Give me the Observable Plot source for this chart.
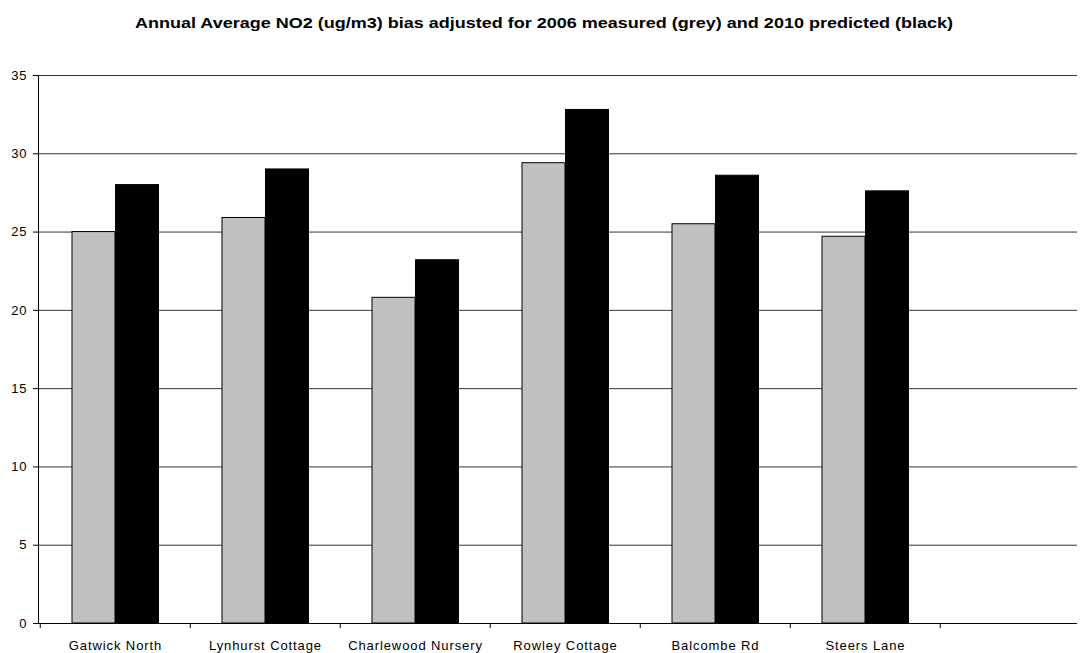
<!DOCTYPE html>
<html>
<head>
<meta charset="utf-8">
<script src="https://cdn.jsdelivr.net/npm/d3@7"></script>
<script src="https://cdn.jsdelivr.net/npm/@observablehq/plot@0.6"></script>
<style>
  body { margin: 0; background: #fff; }
  #wrap { position: relative; width: 1088px; height: 653px; font-family: "Liberation Sans", Arial, sans-serif; }
  #title { position: absolute; top: 14px; left: 0; width: 1088px; text-align: center; font-weight: bold; font-size: 15px; line-height: 17px; color: #000; transform: scaleX(1.2); transform-origin: 544px 50%; white-space: nowrap; }
  #chart { position: absolute; top: 0; left: 0; }
</style>
</head>
<body>
<div id="wrap">
  <div id="chart"></div>
  <div id="title">Annual Average NO2 (ug/m3) bias adjusted for 2006 measured (grey) and 2010 predicted (black)</div>
</div>
<script>
const categories = ["Gatwick North", "Lynhurst Cottage", "Charlewood Nursery", "Rowley Cottage", "Balcombe Rd", "Steers Lane"];
const measured2006 = [25.0, 25.9, 20.8, 29.4, 25.5, 24.7];
const predicted2010 = [28.0, 29.0, 23.2, 32.8, 28.6, 27.6];
const yTicks = [0, 5, 10, 15, 20, 25, 30, 35];
const slots = [...categories, " "];

const grey = categories.map((c, i) => ({cat: c, v: measured2006[i]}));
const black = categories.map((c, i) => ({cat: c, v: predicted2010[i]}));

const bw = (1091.5 - 38) / slots.length;

const plot = Plot.plot({
  width: 1088,
  height: 653,
  marginTop: 75,
  marginBottom: 30,
  marginLeft: 38,
  marginRight: 11,
  style: {fontFamily: "Liberation Sans, Arial, sans-serif", fontSize: "13px", color: "#000", background: "#fff"},
  x: {type: "band", domain: slots, range: [38, 1091.5], padding: 0, label: null},
  y: {domain: [0, 35], label: null},
  marks: [
    Plot.gridY(yTicks, {stroke: "#000", strokeOpacity: 0.8}),
    Plot.barY(grey, {x: "cat", y: "v", fill: "#c0c0c0", stroke: "#000", strokeWidth: 1, insetLeft: 32, insetRight: bw - 75.5}),
    Plot.barY(black, {x: "cat", y: "v", fill: "#000", stroke: "#000", strokeWidth: 1, insetLeft: 75.5, insetRight: bw - 119}),
    Plot.frame({anchor: "left", stroke: "#000"}),
    Plot.ruleY([0], {stroke: "#000"}),
    Plot.axisY(yTicks, {tickSize: 5, tickPadding: 6, fontSize: 13, stroke: "#000", className: "yax"}),
    Plot.axisX(slots, {tickSize: 5, text: null, dx: -bw / 2, stroke: "#000"}),
    Plot.axisX(categories, {tickSize: 0, tickPadding: 17, fontSize: 13, className: "xlab"})
  ]
});
d3.select(plot).selectAll("text").style("letter-spacing", "0.9px");
document.getElementById("chart").appendChild(plot);
</script>
</body>
</html>
